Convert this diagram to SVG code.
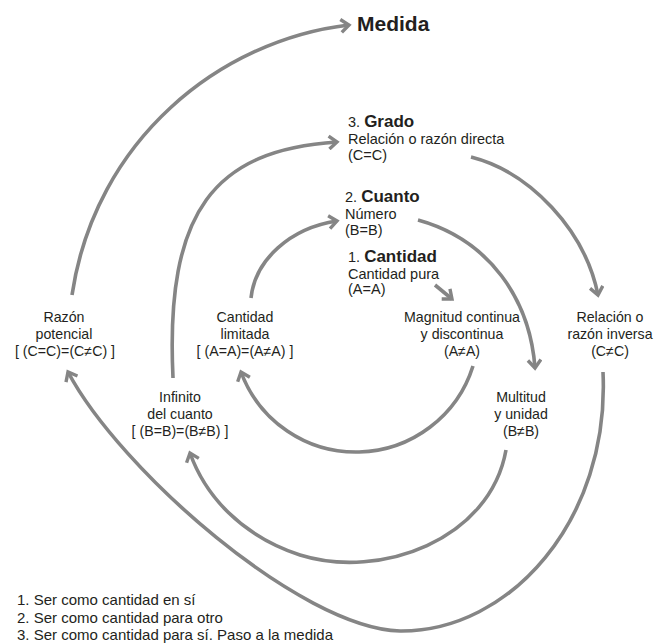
<svg xmlns="http://www.w3.org/2000/svg" width="655" height="643" viewBox="0 0 655 643">
  <style>
    text { font-family: "Liberation Sans", Arial, sans-serif; fill: #231f20; }
    .lbl { font-size: 14.2px; text-anchor: middle; }
    .ttl { font-size: 14.5px; }
    .b { font-weight: bold; font-size: 17px; }
    .leg { font-size: 15px; }
    .arc { fill: none; stroke: #858585; stroke-width: 3.6; stroke-linecap: butt; }
  </style>
  <defs>
    <marker id="head" markerUnits="userSpaceOnUse" markerWidth="16" markerHeight="16" viewBox="0 0 16 16" refX="13" refY="8" orient="auto">
      <path d="M5,1.5 L13,8 L5,14.5" fill="none" stroke="#858585" stroke-width="3.4" stroke-linejoin="miter"/>
    </marker>
  </defs>

  <g id="connectors">
    <!-- Razón potencial -> Medida -->
    <path class="arc" d="M72,295 C95,140 220,40 349,25" marker-end="url(#head)"/>
    <!-- Infinito del cuanto -> Grado -->
    <path class="arc" d="M173,378 C165,210 215,150 337,142" marker-end="url(#head)"/>
    <!-- Cantidad limitada -> Cuanto -->
    <path class="arc" d="M251,298 C255,260 290,228 337,221" marker-end="url(#head)"/>
    <!-- Grado -> Relación inversa -->
    <path class="arc" d="M471,157 C530,172 585,230 598,295" marker-end="url(#head)"/>
    <!-- Número -> Multitud y unidad -->
    <path class="arc" d="M418,220 C490,240 530,300 535,368" marker-end="url(#head)"/>
    <!-- Cantidad pura -> Magnitud -->
    <path class="arc" d="M435,285 L452,299" marker-end="url(#head)"/>
    <!-- Magnitud -> Cantidad limitada -->
    <path class="arc" d="M473,366 A122.6,122.6 0 0,1 241,372" marker-end="url(#head)"/>
    <!-- Multitud y unidad -> Infinito del cuanto -->
    <path class="arc" d="M506,450 C490,540 380,580 300,555 C240,535 205,495 190,453" marker-end="url(#head)"/>
    <!-- Relación inversa -> Razón potencial -->
    <path class="arc" d="M603,372 C610,520 510,632 400,631 C300,628 120,470 68,372" marker-end="url(#head)"/>
  </g>

  <g id="medida">
    <text x="357" y="31" style="font-weight:bold;font-size:21px">Medida</text>
  </g>

  <g id="grado">
    <text x="348" y="127" class="ttl">3. <tspan class="b">Grado</tspan></text>
    <text x="348" y="144" class="ttl">Relación o razón directa</text>
    <text x="348" y="160" class="ttl">(C=C)</text>
  </g>

  <g id="cuanto">
    <text x="345" y="202" class="ttl">2. <tspan class="b">Cuanto</tspan></text>
    <text x="345" y="218.5" class="ttl">Número</text>
    <text x="345" y="235" class="ttl">(B=B)</text>
  </g>

  <g id="cantidad">
    <text x="348" y="262" class="ttl">1. <tspan class="b">Cantidad</tspan></text>
    <text x="348" y="278.5" class="ttl">Cantidad pura</text>
    <text x="348" y="294" class="ttl">(A=A)</text>
  </g>

  <g id="razon-potencial">
    <text x="64" y="322" class="lbl">Razón</text>
    <text x="64" y="338.5" class="lbl">potencial</text>
    <text x="65" y="355.5" class="lbl">[ (C=C)=(C≠C) ]</text>
  </g>

  <g id="cantidad-limitada">
    <text x="245" y="322" class="lbl">Cantidad</text>
    <text x="245" y="338.5" class="lbl">limitada</text>
    <text x="245" y="355.5" class="lbl">[ (A=A)=(A≠A) ]</text>
  </g>

  <g id="magnitud">
    <text x="462" y="322" class="lbl">Magnitud continua</text>
    <text x="462" y="338.5" class="lbl">y discontinua</text>
    <text x="462" y="355.5" class="lbl">(A≠A)</text>
  </g>

  <g id="relacion-inversa">
    <text x="610" y="322" class="lbl">Relación o</text>
    <text x="610" y="338.5" class="lbl">razón inversa</text>
    <text x="610" y="355.5" class="lbl">(C≠C)</text>
  </g>

  <g id="infinito">
    <text x="180" y="402" class="lbl">Infinito</text>
    <text x="180" y="418.5" class="lbl">del cuanto</text>
    <text x="180" y="435.5" class="lbl">[ (B=B)=(B≠B) ]</text>
  </g>

  <g id="multitud">
    <text x="521" y="402" class="lbl">Multitud</text>
    <text x="521" y="418.5" class="lbl">y unidad</text>
    <text x="521" y="435.5" class="lbl">(B≠B)</text>
  </g>

  <g id="leyenda">
    <text x="17" y="605" class="leg">1. Ser como cantidad en sí</text>
    <text x="17" y="623" class="leg">2. Ser como cantidad para otro</text>
    <text x="17" y="640" class="leg">3. Ser como cantidad para sí. Paso a la medida</text>
  </g>
</svg>
